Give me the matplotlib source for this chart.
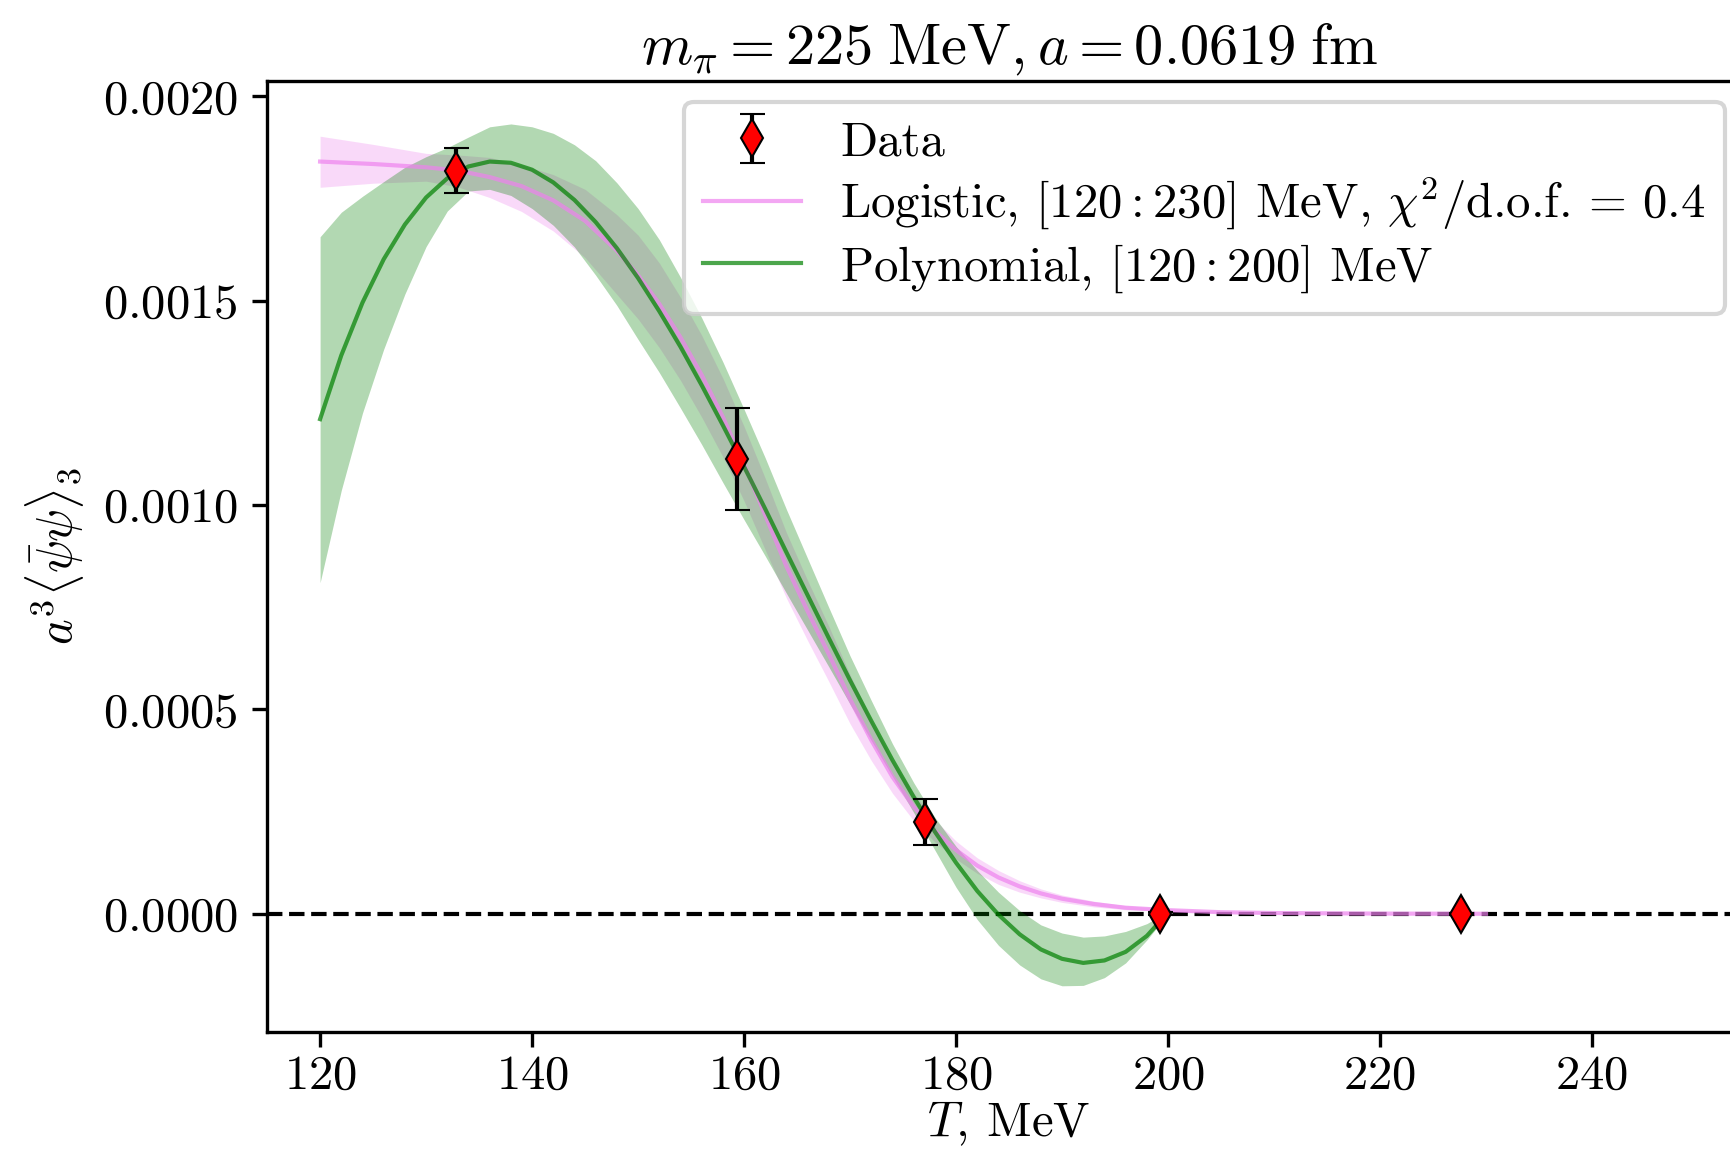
import matplotlib
matplotlib.use("Agg")
import matplotlib.pyplot as plt
import numpy as np

plt.rcParams['font.family'] = 'serif'
plt.rcParams['font.serif'] = ['cmr10']
plt.rcParams['mathtext.fontset'] = 'cm'
plt.rcParams['axes.formatter.use_mathtext'] = True
plt.rcParams['font.size'] = 11.7

# data points (values in units of 1e-3)
T_data = [132.8, 159.3, 177.1, 199.2, 227.6]
y_data = [1.817, 1.112, 0.225, 0.0, 0.0]
y_err = [0.055, 0.125, 0.057, 0.004, 0.002]

# logistic fit, [120:230] MeV
T_log = [120, 125, 130, 133, 136, 139, 142, 145, 148, 150, 152, 154, 156, 158,
         160, 162, 164, 166, 168, 170, 172, 174, 176, 178, 180, 182, 184, 186,
         188, 190, 193, 196, 200, 205, 210, 220, 230]
y_log = [1.840, 1.834, 1.826, 1.818, 1.802, 1.780, 1.745, 1.695, 1.622, 1.562,
         1.492, 1.410, 1.318, 1.215, 1.100, 0.975, 0.850, 0.740, 0.635, 0.525,
         0.425, 0.335, 0.262, 0.203, 0.156, 0.118, 0.089, 0.067, 0.050, 0.037,
         0.024, 0.015, 0.009, 0.004, 0.002, 0.0006, 0.0002]
y_log_lo = [1.777, 1.787, 1.792, 1.778, 1.752, 1.718, 1.670, 1.605, 1.515, 1.455,
            1.385, 1.305, 1.215, 1.118, 1.010, 0.890, 0.772, 0.668, 0.568, 0.465,
            0.375, 0.295, 0.228, 0.176, 0.134, 0.099, 0.072, 0.053, 0.039, 0.028,
            0.017, 0.010, 0.006, 0.002, 0.001, 0.0003, 0.0001]
y_log_hi = [1.902, 1.882, 1.860, 1.856, 1.850, 1.832, 1.808, 1.772, 1.710, 1.660,
            1.592, 1.508, 1.415, 1.310, 1.192, 1.065, 0.932, 0.815, 0.703, 0.585,
            0.475, 0.375, 0.296, 0.230, 0.178, 0.137, 0.106, 0.081, 0.061, 0.046,
            0.031, 0.020, 0.012, 0.006, 0.003, 0.0009, 0.0003]

# polynomial fit, [120:200] MeV
T_pol = [120, 122, 124, 126, 128, 130, 132, 134, 136, 138, 140, 142, 144, 146,
         148, 150, 152, 154, 156, 158, 160, 162, 164, 166, 168, 170, 172, 174,
         176, 178, 180, 182, 184, 186, 188, 190, 192, 194, 196, 198, 200]
y_pol = [1.210, 1.366, 1.495, 1.601, 1.686, 1.752, 1.799, 1.828, 1.840, 1.837,
         1.820, 1.789, 1.746, 1.692, 1.628, 1.555, 1.474, 1.387, 1.293, 1.195,
         1.094, 0.990, 0.884, 0.779, 0.674, 0.571, 0.472, 0.376, 0.286, 0.201,
         0.125, 0.056, -0.002, -0.050, -0.087, -0.110, -0.120, -0.114, -0.093,
         -0.054, 0.003]
y_pol_lo = [0.810, 1.036, 1.225, 1.381, 1.516, 1.632, 1.719, 1.768, 1.772, 1.757,
            1.725, 1.684, 1.631, 1.562, 1.488, 1.405, 1.324, 1.237, 1.148, 1.055,
            0.964, 0.875, 0.784, 0.694, 0.604, 0.513, 0.424, 0.336, 0.248, 0.156,
            0.065, -0.014, -0.077, -0.125, -0.159, -0.176, -0.175, -0.156, -0.120,
            -0.064, 0.000]
y_pol_hi = [1.656, 1.716, 1.755, 1.791, 1.826, 1.852, 1.874, 1.900, 1.925, 1.932,
            1.925, 1.909, 1.881, 1.842, 1.788, 1.725, 1.649, 1.557, 1.458, 1.350,
            1.234, 1.115, 0.989, 0.869, 0.749, 0.631, 0.522, 0.416, 0.321, 0.236,
            0.165, 0.106, 0.053, 0.008, -0.027, -0.047, -0.057, -0.054, -0.043,
            -0.024, 0.006]

xticks = [120, 140, 160, 180, 200, 220, 240]

sc = 1e-3

fig = plt.figure(figsize=(1731 / 300, 1149 / 300), dpi=300)
ax = fig.add_axes([267.1 / 1731, 117 / 1149, (1751 - 267.1) / 1731, (1032 - 80.6) / 1149])

ax.axhline(0, color='k', ls='--', lw=1, zorder=1)

ax.fill_between(T_log, np.array(y_log_lo) * sc, np.array(y_log_hi) * sc,
                color='violet', alpha=0.3, lw=0, zorder=2)
ax.fill_between(T_pol, np.array(y_pol_lo) * sc, np.array(y_pol_hi) * sc,
                color='green', alpha=0.3, lw=0, zorder=2)
l_log, = ax.plot(T_log, np.array(y_log) * sc, color='violet', alpha=0.7, lw=1,
                 zorder=3,
                 label=r'Logistic, $[120:230]$ MeV$,\,\chi^2$/d.o.f. = 0.4')
l_pol, = ax.plot(T_pol, np.array(y_pol) * sc, color='green', alpha=0.7, lw=1,
                 zorder=3, label=r'Polynomial, $[120:200]$ MeV')
eb = ax.errorbar(T_data, np.array(y_data) * sc, yerr=np.array(y_err) * sc,
                 fmt='d', color='red', mec='k', mew=0.5, ms=6.5, ecolor='k',
                 elinewidth=1, capsize=3, zorder=4, label='Data')

ax.set_xlim(115, 255)
ax.set_ylim(-0.000289, 0.002038)
ax.set_xticks(xticks)
ax.tick_params(axis='x', pad=2)

ax.set_xlabel(r'$T,\!$ MeV', labelpad=0)
ax.set_ylabel(r'$a^3\langle\bar{\psi}\psi\rangle_3$')
ax.set_title(r'$m_\pi = 225\;\mathrm{MeV}, a = 0.0619\;\mathrm{fm}$', pad=4)

ax.legend(handles=[eb, l_log, l_pol], loc='upper left',
          bbox_to_anchor=(684 / 1731, 1 - 101.6 / 1149),
          bbox_transform=fig.transFigure, borderaxespad=0, labelspacing=0.2)

fig.savefig('out.png', dpi=300)
